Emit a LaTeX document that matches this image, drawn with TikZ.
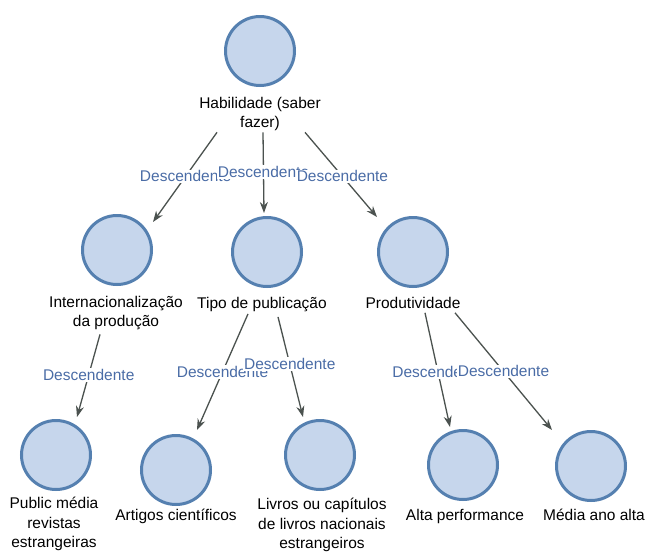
\documentclass[tikz,border=0pt]{standalone}
\usepackage{fontspec}
\setmainfont{Liberation Sans}
\usetikzlibrary{arrows.meta,calc}
\definecolor{nodefill}{HTML}{C6D6EC}
\definecolor{nodeedge}{HTML}{5580B0}
\definecolor{linkcol}{HTML}{4B524F}
\definecolor{tagcol}{HTML}{4A6CA6}
\begin{document}
\begin{tikzpicture}[x=1pt,y=-1pt,
  concept/.style={circle,fill=nodefill,draw=nodeedge,line width=3pt,minimum size=69pt,inner sep=0pt},
  caption/.style={anchor=north,inner sep=0pt,align=center,font=\fontsize{15.5}{19.5}\selectfont},
  link/.style={draw=linkcol,line width=1.3pt,-{Stealth[length=11pt,width=8pt]}},
  tag/.style={fill=white,inner sep=1pt,text=tagcol,font=\fontsize{15.5}{19.5}\selectfont}]
\useasboundingbox[fill=white] (0,0) rectangle (648,555);

% concepts
\node[concept] (hab)  at (260,51)  {};
\node[concept] (intl) at (117,250) {};
\node[concept] (tipo) at (267,252) {};
\node[concept] (prod) at (413,252) {};
\node[concept] (pub)  at (56,455)  {};
\node[concept] (art)  at (176,470) {};
\node[concept] (liv)  at (320,455) {};
\node[concept] (alta) at (463,465) {};
\node[concept] (med)  at (591,466) {};

% captions
\node[caption] (habl)  at (260,97)  {Habilidade (saber\\fazer)};
\node[caption] (intll) at (116,296) {Internacionalização\\da produção};
\node[caption] (tipol) at (262,297) {Tipo de publicação};
\node[caption] (prodl) at (413,297) {Produtividade};
\node[caption] (publ)  at (54,497)  {Public média\\revistas\\estrangeiras};
\node[caption] (artl)  at (176,509) {Artigos científicos};
\node[caption] (livl)  at (322,498) {Livros ou capítulos\\de livros nacionais\\estrangeiros};
\node[caption] (altal) at (465,509) {Alta performance};
\node[caption] (medl)  at (594,509) {Média ano alta};

% links
\draw[link] ($(habl.south)+(-43,1)$) -- node[tag,pos=0.49]{Descendente} ($(intl)+(36,-28)$);
\draw[link] ($(habl.south)+(3,1)$)   -- node[tag,pos=0.49]{Descendente} ($(tipo)+(-3,-39)$);
\draw[link] ($(habl.south)+(45,1)$)  -- node[tag,pos=0.52]{Descendente} ($(prod)+(-36,-35)$);

\draw[link] ($(intll.south)+(-16,4)$) -- node[tag,pos=0.49]{Descendente} ($(pub)+(21,-38)$);

\draw[link] ($(tipol.south)+(-14,2)$) -- node[tag,pos=0.50]{Descendente} ($(art)+(21,-40)$);
\draw[link] ($(tipol.south)+(16,5)$)  -- node[tag,pos=0.47]{Descendente} ($(liv)+(-17,-38)$);

\draw[link] ($(prodl.south)+(12,4)$) -- node[tag,pos=0.52]{Descendente} ($(alta)+(-13,-38)$);
\draw[link] ($(prodl.south)+(42,4)$) -- node[tag,pos=0.50]{Descendente} ($(med)+(-39,-36)$);
\end{tikzpicture}
\end{document}
